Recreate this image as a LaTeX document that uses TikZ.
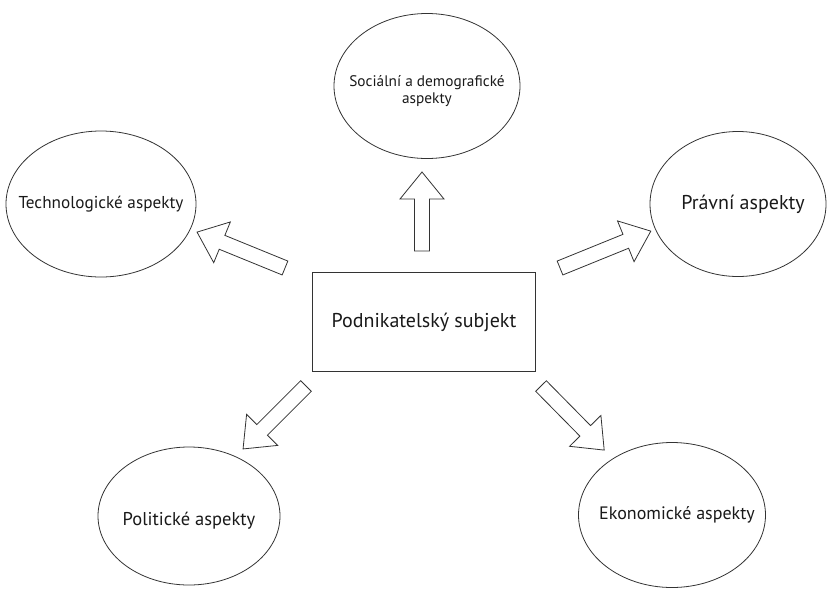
\documentclass[tikz,border=0pt]{standalone}
\usepackage{fontspec}
\setmainfont{PT Sans}
\usetikzlibrary{shapes.geometric}
\tikzset{
  aspect/.style={ellipse, draw=black!80, line width=0.8pt, inner sep=0pt},
  centerbox/.style={rectangle, draw=black!80, line width=0.8pt, inner sep=0pt},
  label text/.style={inner sep=0pt, align=center, text=black!90},
  blockarrow/.style={draw=black!80, line width=0.8pt, fill=white, line join=miter},
}
% block arrow: #1 tail point, #2 direction angle, #3 length
\newcommand\blockarrow[3]{%
  \begin{scope}[shift={#1}, rotate=#2]
    \draw[blockarrow] (0,-7.5) -- ({#3-27},-7.5) -- ({#3-27},-22) -- (#3,0)
      -- ({#3-27},22) -- ({#3-27},7.5) -- (0,7.5) -- cycle;
  \end{scope}}
\begin{document}
\begin{tikzpicture}[x=1pt,y=-1pt]
  \useasboundingbox (0,0) rectangle (827,590);
  % outlines
  \node[centerbox, minimum width=223pt, minimum height=99pt] (firm) at (424,322) {};
  \node[aspect, minimum width=186pt, minimum height=145pt] (social) at (427,86) {};
  \node[aspect, minimum width=190pt, minimum height=146pt] (tech) at (101,204) {};
  \node[aspect, minimum width=176pt, minimum height=145pt] (law) at (738,204) {};
  \node[aspect, minimum width=182pt, minimum height=138pt] (politics) at (189,516) {};
  \node[aspect, minimum width=187pt, minimum height=145pt] (economy) at (672,515) {};
  % texts
  \node[label text, font=\fontsize{20}{24}\selectfont] (firmtext) at (firm.center) {Podnikatelský subjekt};
  \node[label text, font=\fontsize{15.3}{16.5}\selectfont] (socialtext) at ([yshift=-5pt]social.center) {Sociální a demografické\\aspekty};
  \node[label text, font=\fontsize{17.2}{20}\selectfont] (techtext) at (tech.center) {Technologické aspekty};
  \node[label text, font=\fontsize{20}{24}\selectfont] (lawtext) at ([xshift=5pt]law.center) {Právní aspekty};
  \node[label text, font=\fontsize{18.5}{22}\selectfont] (politicstext) at ([yshift=-5pt]politics.center) {Politické aspekty};
  \node[label text, font=\fontsize{18}{22}\selectfont] (economytext) at ([xshift=5pt]economy.center) {Ekonomické aspekty};
  % arrows from the firm towards each aspect
  \blockarrow{(422,251)}{90}{79}
  \blockarrow{(285,268)}{157.8}{95}
  \blockarrow{(560,268)}{22.1}{98}
  \blockarrow{(306,386)}{225}{89}
  \blockarrow{(541,386)}{-45.4}{90}
\end{tikzpicture}
\end{document}
